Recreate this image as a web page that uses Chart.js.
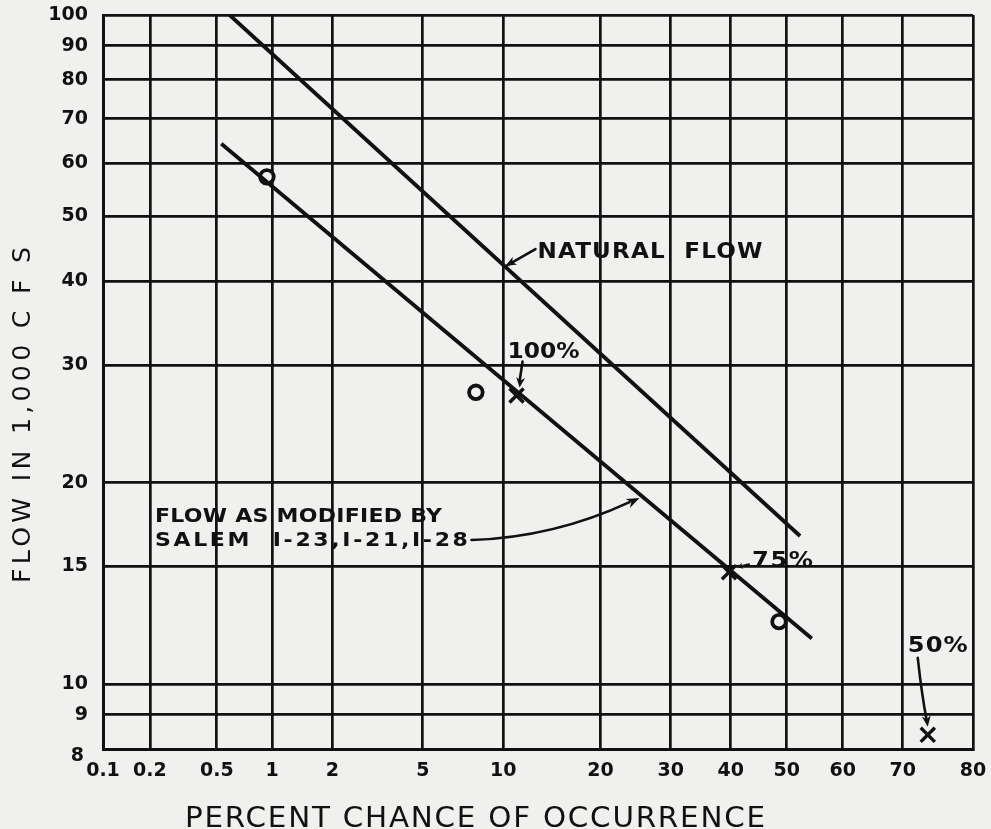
<!DOCTYPE html>
<html>
<head>
<meta charset="utf-8">
<script src="https://cdn.jsdelivr.net/npm/chart.js@4/dist/chart.umd.min.js"></script>
<style>
  html, body { margin: 0; padding: 0; background: #f0f0ee; }
  #wrap { width: 991px; height: 829px; }
  canvas { display: block; }
</style>
</head>
<body>
<div id="wrap"><canvas id="c" width="991" height="829"></canvas></div>
<script>
// ---------------- DATA ----------------
const percentTicks = [0.1, 0.2, 0.5, 1, 2, 5, 10, 20, 30, 40, 50, 60, 70, 80];
const flowTicks = [8, 9, 10, 15, 20, 30, 40, 50, 60, 70, 80, 90, 100];

const naturalPercent = [0.59, 52.4];
const naturalFlow = [100, 16.65];

const modifiedPercent = [0.53, 54.5];
const modifiedFlow = [64.2, 11.7];

const observedPercent = [0.94, 8.0, 48.6];
const observedFlow = [57.3, 27.3, 12.4];

const eventPercent = [11.1, 39.7, 73.8];
const eventFlow = [27.0, 14.7, 8.4];
const eventLabels = ['100%', '75%', '50%'];

const naturalLabel = 'NATURAL  FLOW';
const modifiedLabel = ['FLOW AS MODIFIED BY', 'SALEM  I-23,I-21,I-28'];
const xTitle = 'PERCENT CHANCE OF OCCURRENCE';
const yTitle = 'FLOW IN 1,000 C F S';

// ---------------- helpers ----------------
function probit(p) {
  const a = [-3.969683028665376e+01, 2.209460984245205e+02, -2.759285104469687e+02, 1.383577518672690e+02, -3.066479806614716e+01, 2.506628277459239e+00];
  const b = [-5.447609879822406e+01, 1.615858368580409e+02, -1.556989798598866e+02, 6.680131188771972e+01, -1.328068155288572e+01];
  const c = [-7.784894002430293e-03, -3.223964580411365e-01, -2.400758277161838e+00, -2.549732539343734e+00, 4.374664141464968e+00, 2.938163982698783e+00];
  const d = [7.784695709041462e-03, 3.224671290700398e-01, 2.445134137142996e+00, 3.754408661907416e+00];
  const pl = 0.02425, ph = 1 - pl;
  let q, r;
  if (p < pl) {
    q = Math.sqrt(-2 * Math.log(p));
    return (((((c[0]*q+c[1])*q+c[2])*q+c[3])*q+c[4])*q+c[5]) / ((((d[0]*q+d[1])*q+d[2])*q+d[3])*q+1);
  }
  if (p > ph) {
    q = Math.sqrt(-2 * Math.log(1 - p));
    return -(((((c[0]*q+c[1])*q+c[2])*q+c[3])*q+c[4])*q+c[5]) / ((((d[0]*q+d[1])*q+d[2])*q+d[3])*q+1);
  }
  q = p - 0.5; r = q * q;
  return (((((a[0]*r+a[1])*r+a[2])*r+a[3])*r+a[4])*r+a[5])*q / (((((b[0]*r+b[1])*r+b[2])*r+b[3])*r+b[4])*r+1);
}
function normCdf(z) {
  const t = 1 / (1 + 0.2316419 * Math.abs(z));
  const dd = 0.3989423 * Math.exp(-z * z / 2);
  let pr = dd * t * (0.3193815 + t * (-0.3565638 + t * (1.781478 + t * (-1.821256 + t * 1.330274))));
  return z > 0 ? 1 - pr : pr;
}

// Normal-probability scale (percent chance) built on Chart.js LinearScale
class ProbabilityScale extends Chart.LinearScale {
  determineDataLimits() {
    this.min = this.options.min;
    this.max = this.options.max;
  }
  buildTicks() {
    return percentTicks.map(v => ({ value: v }));
  }
  getPixelForValue(value) {
    if (value === null || value === undefined || isNaN(value)) return NaN;
    const z0 = probit(this.min / 100), z1 = probit(this.max / 100);
    return this.getPixelForDecimal((probit(value / 100) - z0) / (z1 - z0));
  }
  getValueForPixel(pixel) {
    const z0 = probit(this.min / 100), z1 = probit(this.max / 100);
    const dec = this.getDecimalForPixel(pixel);
    return normCdf(z0 + dec * (z1 - z0)) * 100;
  }
}
ProbabilityScale.id = 'probability';
ProbabilityScale.defaults = { ticks: { callback: (v) => String(v) } };
Chart.register(ProbabilityScale);

const BG = '#f0f0ee';
const INK = '#111111';
const pts = (xs, ys) => xs.map((x, i) => ({ x: x, y: ys[i] }));

// Draw text so that it spans a given width: part horizontal stretch, part letter spacing
function fitText(ctx, text, x, y, width, align, maxStretch) {
  ctx.save();
  const w0 = ctx.measureText(text).width;
  const n = text.length;
  let sx = Math.min(Math.max(width / w0, 1), maxStretch || 1.15);
  let ls = 0;
  const rest = width / sx - w0;
  if ('letterSpacing' in ctx && n > 1) {
    ls = rest / (n - 1);
    ctx.letterSpacing = ls + 'px';
  }
  const w = (w0 + ls * (n - 1)) * sx;
  let sxPos = x;
  if (align === 'center') sxPos = x - w / 2;
  ctx.translate(sxPos, y);
  ctx.scale(sx, 1);
  ctx.textAlign = 'left';
  ctx.fillText(text, 0, 0);
  ctx.restore();
}

function arrowHead(ctx, tipX, tipY, fromX, fromY, len, half) {
  const ang = Math.atan2(tipY - fromY, tipX - fromX);
  ctx.beginPath();
  ctx.moveTo(tipX, tipY);
  ctx.lineTo(tipX - len * Math.cos(ang) + half * Math.sin(ang), tipY - len * Math.sin(ang) - half * Math.cos(ang));
  ctx.lineTo(tipX - len * Math.cos(ang) * 0.7, tipY - len * Math.sin(ang) * 0.7);
  ctx.lineTo(tipX - len * Math.cos(ang) - half * Math.sin(ang), tipY - len * Math.sin(ang) + half * Math.cos(ang));
  ctx.closePath();
  ctx.fill();
}

const bgPlugin = {
  id: 'bg',
  beforeDraw(chart) {
    const ctx = chart.ctx;
    ctx.save();
    ctx.fillStyle = BG;
    ctx.fillRect(0, 0, chart.width, chart.height);
    ctx.restore();
  }
};

const annotationPlugin = {
  id: 'notes',
  afterDatasetsDraw(chart) {
    const ctx = chart.ctx;
    const xs = chart.scales.x, ys = chart.scales.y;
    const P = (p, f) => [xs.getPixelForValue(p), ys.getPixelForValue(f)];
    ctx.save();
    ctx.fillStyle = INK;
    ctx.strokeStyle = INK;
    ctx.lineWidth = 2.6;
    ctx.lineCap = 'round';
    ctx.textBaseline = 'alphabetic';
    ctx.font = 'bold 21px "DejaVu Sans"';

    // NATURAL FLOW
    let [ax, ay] = P(10.1, 42.0);
    fitText(ctx, naturalLabel, ax + 33, ay - 9, 225, 'left', 1.1);
    ctx.beginPath(); ctx.moveTo(ax + 31, ay - 18); ctx.lineTo(ax + 3, ay - 2); ctx.stroke();
    arrowHead(ctx, ax + 1, ay - 1, ax + 31, ay - 18, 11, 4.5);

    // 100%
    [ax, ay] = P(eventPercent[0], eventFlow[0]);
    fitText(ctx, eventLabels[0], ax - 9, ay - 38, 72, 'left', 1.12);
    ctx.beginPath(); ctx.moveTo(ax + 6, ay - 34); ctx.lineTo(ax + 3, ay - 14); ctx.stroke();
    arrowHead(ctx, ax + 3, ay - 8, ax + 6, ay - 34, 10, 4.5);

    // 75%
    [ax, ay] = P(eventPercent[1], eventFlow[1]);
    fitText(ctx, eventLabels[1], ax + 23, ay - 5, 61, 'left', 1.15);
    ctx.lineWidth = 2;
    ctx.beginPath(); ctx.moveTo(ax + 20, ay - 8); ctx.lineTo(ax + 12, ay - 6); ctx.stroke();
    arrowHead(ctx, ax + 8, ay - 5, ax + 20, ay - 8, 6, 3);
    ctx.lineWidth = 2.6;

    // 50%
    [ax, ay] = P(eventPercent[2], eventFlow[2]);
    fitText(ctx, eventLabels[2], ax - 20, ay - 83, 60, 'left', 1.15);
    ctx.beginPath(); ctx.moveTo(ax - 10, ay - 77); ctx.quadraticCurveTo(ax - 6, ay - 40, ax - 1, ay - 14); ctx.stroke();
    arrowHead(ctx, ax, ay - 8, ax - 3, ay - 30, 11, 4.5);

    // FLOW AS MODIFIED BY ...
    [ax, ay] = P(25, 19.3);
    ctx.font = 'bold 20px "DejaVu Sans"';
    fitText(ctx, modifiedLabel[0], ax - 482.6, ay + 29, 287, 'left', 1.1);
    fitText(ctx, modifiedLabel[1], ax - 482.6, ay + 53, 313, 'left', 1.1);
    ctx.beginPath();
    ctx.moveTo(ax - 166, ay + 47);
    ctx.quadraticCurveTo(ax - 83, ay + 44, ax - 8, ay + 9);
    ctx.stroke();
    arrowHead(ctx, ax + 2, ay + 5, ax - 30, ay + 20, 13, 5);

    ctx.restore();
  },
  afterDraw(chart) {
    const ctx = chart.ctx;
    const ys = chart.scales.y;
    ctx.save();
    ctx.fillStyle = INK;
    // lowest flow tick label sits just off the corner
    ctx.font = 'bold 19px "DejaVu Sans"';
    ctx.textAlign = 'right';
    ctx.textBaseline = 'middle';
    ctx.fillText(String(flowTicks[0]), ys.right - 19, ys.getPixelForValue(flowTicks[0]) + 7);

    // axis titles
    ctx.textBaseline = 'alphabetic';
    ctx.font = '28px "DejaVu Sans"';
    fitText(ctx, xTitle, 475, 827, 580, 'center', 1.05);

    ctx.translate(30, 415);
    ctx.rotate(-Math.PI / 2);
    ctx.font = '24px "DejaVu Sans"';
    fitText(ctx, yTitle, 0, 0, 336, 'center', 1.05);
    ctx.restore();
  }
};

const tickFont = { family: 'DejaVu Sans', weight: 'bold', size: 19 };
const gridStyle = { color: INK, lineWidth: 2.7, drawTicks: false };

new Chart(document.getElementById('c'), {
  type: 'scatter',
  data: {
    datasets: [
      {
        label: 'Natural flow',
        data: pts(naturalPercent, naturalFlow),
        showLine: true, borderColor: INK, borderWidth: 3.8, pointRadius: 0, fill: false, tension: 0
      },
      {
        label: 'Flow as modified',
        data: pts(modifiedPercent, modifiedFlow),
        showLine: true, borderColor: INK, borderWidth: 3.8, pointRadius: 0, fill: false, tension: 0
      },
      {
        label: 'Observed',
        data: pts(observedPercent, observedFlow),
        pointStyle: 'circle', pointRadius: 6.8, borderWidth: 3.8,
        borderColor: INK, backgroundColor: BG
      },
      {
        label: 'Observed centre',
        data: pts(observedPercent, observedFlow),
        pointStyle: 'circle', pointRadius: 1.6, borderWidth: 0,
        borderColor: INK, backgroundColor: INK
      },
      {
        label: 'Events',
        data: pts(eventPercent, eventFlow),
        pointStyle: 'crossRot', pointRadius: 10, borderWidth: 3.4,
        borderColor: INK, backgroundColor: INK
      }
    ]
  },
  options: {
    responsive: false,
    devicePixelRatio: 1,
    animation: false,
    events: [],
    layout: { padding: { top: 15, right: 18, left: 0, bottom: 0 } },
    plugins: { legend: { display: false }, tooltip: { enabled: false }, title: { display: false } },
    scales: {
      x: {
        type: 'probability',
        min: 0.1,
        max: 80,
        grid: gridStyle,
        border: { display: true, color: INK, width: 3 },
        ticks: {
          autoSkip: false, maxRotation: 0, minRotation: 0,
          font: tickFont, color: INK, padding: 11,
          callback: (v) => String(v)
        },
        afterFit: (s) => { s.height = 80; s.paddingLeft = 0; s.paddingRight = 0; }
      },
      y: {
        type: 'logarithmic',
        min: 8,
        max: 100,
        grid: gridStyle,
        border: { display: true, color: INK, width: 3 },
        afterBuildTicks: (s) => { s.ticks = flowTicks.map(v => ({ value: v })); },
        ticks: {
          autoSkip: false,
          font: tickFont, color: INK, padding: 15,
          callback: (v) => (v === flowTicks[0] ? '' : String(v))
        },
        afterFit: (s) => { s.width = 103; s.paddingTop = 0; s.paddingBottom = 0; }
      }
    }
  },
  plugins: [bgPlugin, annotationPlugin]
});
</script>
</body>
</html>
